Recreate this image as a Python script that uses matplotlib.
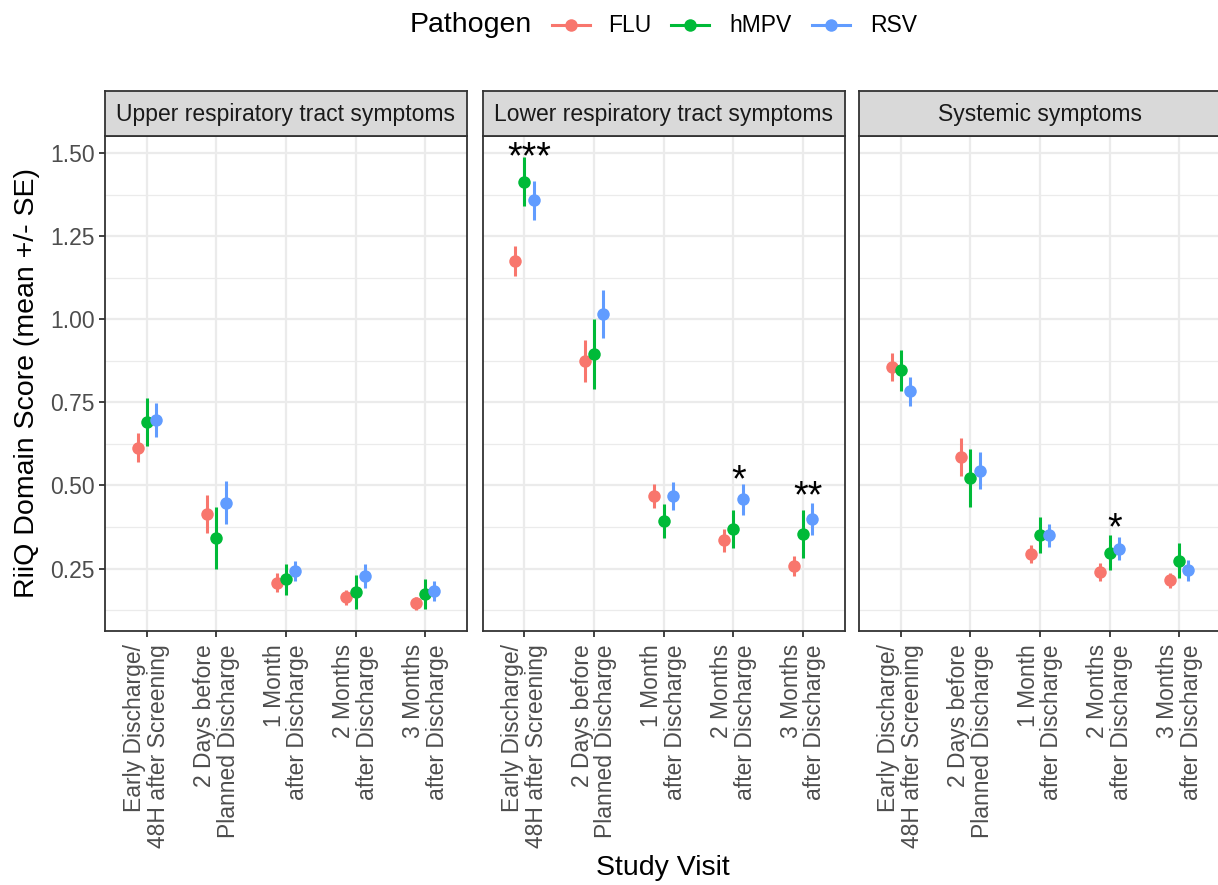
import matplotlib
matplotlib.use("Agg")
import matplotlib.pyplot as plt
from matplotlib.lines import Line2D
import numpy as np

plt.rcParams['font.family'] = ['Liberation Sans', 'DejaVu Sans']

# ---------------- data ----------------
visits = ["Early Discharge/\n48H after Screening",
          "2 Days before\nPlanned Discharge",
          "1 Month\nafter Discharge",
          "2 Months\nafter Discharge",
          "3 Months\nafter Discharge"]
domains = ["Upper respiratory tract symptoms",
           "Lower respiratory tract symptoms",
           "Systemic symptoms"]
pathogens = ["FLU", "hMPV", "RSV"]
colors = {"FLU": "#F8766D", "hMPV": "#00BA38", "RSV": "#619CFF"}

upper_mean = {"FLU": [0.613, 0.415, 0.207, 0.163, 0.145],
              "hMPV": [0.690, 0.343, 0.217, 0.179, 0.172],
              "RSV": [0.698, 0.448, 0.242, 0.227, 0.182]}
upper_se = {"FLU": [0.044, 0.057, 0.028, 0.022, 0.020],
            "hMPV": [0.072, 0.093, 0.048, 0.050, 0.045],
            "RSV": [0.051, 0.064, 0.030, 0.036, 0.029]}

lower_mean = {"FLU": [1.175, 0.875, 0.468, 0.335, 0.257],
              "hMPV": [1.414, 0.895, 0.393, 0.370, 0.353],
              "RSV": [1.357, 1.016, 0.468, 0.458, 0.400]}
lower_se = {"FLU": [0.045, 0.063, 0.036, 0.034, 0.031],
            "hMPV": [0.074, 0.106, 0.051, 0.057, 0.072],
            "RSV": [0.058, 0.072, 0.042, 0.047, 0.048]}

systemic_mean = {"FLU": [0.856, 0.585, 0.293, 0.239, 0.214],
                 "hMPV": [0.846, 0.522, 0.350, 0.297, 0.274],
                 "RSV": [0.783, 0.544, 0.350, 0.310, 0.244]}
systemic_se = {"FLU": [0.041, 0.057, 0.027, 0.027, 0.023],
               "hMPV": [0.061, 0.087, 0.054, 0.053, 0.053],
               "RSV": [0.043, 0.056, 0.034, 0.035, 0.033]}

means = [upper_mean, lower_mean, systemic_mean]
ses = [upper_se, lower_se, systemic_se]

# significance labels: (domain index, visit index, label, y)
star_domain = [1, 1, 1, 2]
star_visit = [0, 3, 4, 3]
star_label = ["***", "*", "**", "*"]
star_y = [1.515, 0.544, 0.496, 0.401]

yticks = [0.25, 0.50, 0.75, 1.00, 1.25, 1.50]
ytick_labels = ["0.25", "0.50", "0.75", "1.00", "1.25", "1.50"]

# ---------------- figure ----------------
W, H = 1218, 885
fig = plt.figure(figsize=(W / 100, H / 100), dpi=100)

panel_left = [105, 482.7, 859]
panel_w = 362
panel_top = 136
panel_bot = 631
strip_top = 91

dodge = {"FLU": -0.133, "hMPV": 0.0, "RSV": 0.133}
small = 16.5
base = 20.5
grid_col = "#EBEBEB"
frame_col = "#333333"

x = np.arange(1, len(visits) + 1)

for d, dom in enumerate(domains):
    l = panel_left[d]
    ax = fig.add_axes([l / W, (H - panel_bot) / H, panel_w / W, (panel_bot - panel_top) / H])
    ax.set_xlim(0.4, 5.6)
    ax.set_ylim(0.062, 1.551)
    ax.set_facecolor("white")
    ax.set_axisbelow(True)
    ax.set_yticks(yticks)
    ax.set_yticks(np.arange(0.125, 1.55, 0.25), minor=True)
    ax.set_xticks(x)
    ax.grid(which="major", color=grid_col, lw=1.6)
    ax.grid(which="minor", axis="y", color=grid_col, lw=0.9)
    ax.tick_params(which="minor", length=0)
    ax.tick_params(which="major", length=4.5, width=1.3, color=frame_col,
                   labelsize=small, labelcolor="#4D4D4D", pad=3)
    ax.tick_params(axis="x", pad=5)
    if d == 0:
        ax.set_yticklabels(ytick_labels)
    else:
        ax.tick_params(axis="y", which="major", length=0, labelleft=False)
    ax.set_xticklabels(visits, rotation=90, ha="center", va="top",
                       multialignment="right", linespacing=1.03)
    for s in ax.spines.values():
        s.set_color(frame_col)
        s.set_linewidth(1.3)

    for p in pathogens:
        xs = x + dodge[p]
        m = np.array(means[d][p])
        e = np.array(ses[d][p])
        ax.vlines(xs, m - e, m + e, color=colors[p], lw=2.2, zorder=3)
        ax.plot(xs, m, "o", color=colors[p], ms=9.0, mew=0, zorder=4)

    for dd, vi, lab, yy in zip(star_domain, star_visit, star_label, star_y):
        if dd == d:
            ax.annotate(lab, xy=(x[vi] + 0.07, yy), xytext=(0, -0.55 * 27),
                        textcoords="offset points", ha="center", va="baseline",
                        fontsize=27, color="black", zorder=5)

    # strip
    sax = fig.add_axes([l / W, (H - panel_top) / H, panel_w / W, (panel_top - strip_top) / H])
    sax.set_facecolor("#D9D9D9")
    sax.set_xticks([])
    sax.set_yticks([])
    for s in sax.spines.values():
        s.set_color(frame_col)
        s.set_linewidth(1.3)
    sax.text(0.5, 0.47, dom, ha="center", va="center", fontsize=small,
             color="#1A1A1A", transform=sax.transAxes)

# axis titles
fig.text(27 / W, 1 - 383 / H, "RiiQ Domain Score (mean +/- SE)", rotation=90,
         ha="center", va="center", fontsize=base, color="black")
fig.text(663 / W, 1 - 868 / H, "Study Visit", ha="center", va="center",
         fontsize=base, color="black")

# legend
ly = 1 - 25 / H
fig.text(410 / W, ly, "Pathogen", ha="left", va="center", fontsize=base, color="black")
key_cx = [571, 690, 831]
lab_x = [608, 729, 870]
for p, kx, tx in zip(pathogens, key_cx, lab_x):
    fig.add_artist(Line2D([(kx - 19) / W, (kx + 19) / W], [ly, ly], transform=fig.transFigure,
                          color=colors[p], lw=2.2))
    fig.add_artist(Line2D([kx / W], [ly], transform=fig.transFigure, marker="o",
                          color=colors[p], ms=9.0, mew=0, lw=0))
    fig.text(tx / W, ly, p, ha="left", va="center", fontsize=small, color="black")

fig.savefig("out.png", dpi=100, facecolor="white")
